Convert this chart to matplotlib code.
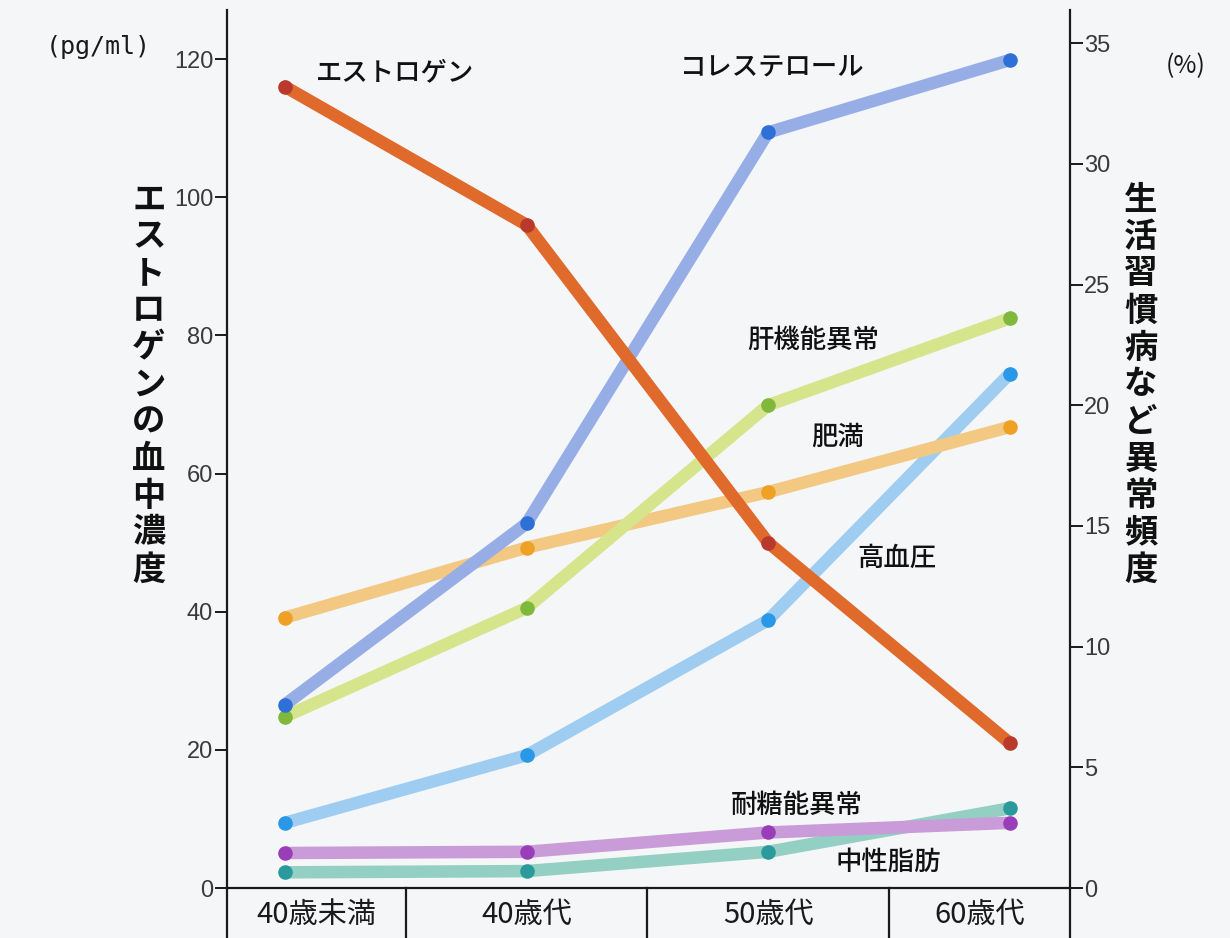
import matplotlib
matplotlib.use("Agg")
import matplotlib.pyplot as plt
from matplotlib.transforms import blended_transform_factory

plt.rcParams['font.family'] = ['Noto Sans CJK JP', 'DejaVu Sans']

# ---- data ----
age_groups = ["40歳未満", "40歳代", "50歳代", "60歳代"]
estrogen = [116, 96, 50, 21]                 # pg/ml (left axis)
cholesterol = [7.6, 15.1, 31.3, 34.3]        # % (right axis)
liver = [7.1, 11.6, 20.0, 23.6]
obesity = [11.2, 14.1, 16.4, 19.1]
hypertension = [2.7, 5.5, 11.1, 21.3]
glucose = [1.45, 1.5, 2.3, 2.7]
triglyceride = [0.65, 0.7, 1.5, 3.3]

left_ticks = [0, 20, 40, 60, 80, 100, 120]
right_ticks = [0, 5, 10, 15, 20, 25, 30, 35]

bg = "#f4f6f7"
fig = plt.figure(figsize=(12.3, 9.38), dpi=100, facecolor=bg)
ax = fig.add_axes([0.1846, 0.0533, 0.6854, 0.936])
ax2 = ax.twinx()

x = list(range(len(age_groups)))
ax.set_xlim(-0.24, 3.25)
ax.set_ylim(0, 127.1)
ax2.set_ylim(0, 36.37)

lw = 9
ms = 10.5

def series(a, vals, line_c, mark_c, z):
    a.plot(x, vals, color=line_c, lw=lw, solid_capstyle='round', zorder=z)
    a.plot(x, vals, 'o', color=mark_c, ms=ms, mec='none', zorder=z + 0.5)

series(ax2, triglyceride, "#93cfc2", "#2b9a9c", 2)
series(ax2, glucose, "#c99bd9", "#9a3db8", 3)
series(ax2, hypertension, "#9fcdf2", "#2a98e6", 4)
series(ax2, obesity, "#f2c883", "#efa126", 5)
series(ax2, liver, "#d6e48c", "#80b83c", 6)
series(ax2, cholesterol, "#96ade6", "#2f6fd8", 7)
series(ax, estrogen, "#e0692c", "#b93a2c", 8)

ax.set_zorder(ax2.get_zorder() + 1)
ax.patch.set_visible(False)
ax2.patch.set_visible(False)

for a in (ax, ax2):
    a.spines['top'].set_visible(False)
    for s in a.spines.values():
        s.set_linewidth(1.6)
        s.set_color("#1a1a1a")
ax.spines['right'].set_visible(False)
ax2.spines['left'].set_visible(False)
ax2.spines['bottom'].set_visible(False)

tick_font = dict(family=['Liberation Sans', 'DejaVu Sans'], size=17, color="#3a3a3a")
ax.set_yticks(left_ticks)
ax.set_yticklabels([str(v) for v in left_ticks], **tick_font)
ax2.set_yticks(right_ticks)
ax2.set_yticklabels([str(v) for v in right_ticks], **tick_font)
ax.tick_params(axis='y', direction='out', length=9, width=1.4, color="#1a1a1a", pad=1)
ax2.tick_params(axis='y', direction='out', length=9, width=1.4, color="#1a1a1a", pad=1)
ax.set_xticks([])

# category table below the axis
tr = blended_transform_factory(ax.transData, ax.transAxes)
bottom = -0.0533 / 0.936
edges = [ax.get_xlim()[0], 0.5, 1.5, 2.5, ax.get_xlim()[1]]
for e in edges:
    ax.plot([e, e], [0, bottom], transform=tr, color="#1a1a1a", lw=1.6, clip_on=False)
for i, lab in enumerate(age_groups):
    cx = (edges[i] + edges[i + 1]) / 2
    ax.text(cx, bottom / 2 - 0.002, lab, transform=tr, ha='center', va='center',
            fontsize=21, color="#1a1a1a", clip_on=False)

# unit labels
fig.text(98 / 1230, 1 - 47 / 938, "(pg/ml)", ha='center', va='center', fontsize=18,
         family=['DejaVu Sans Mono'], color="#1a1a1a")
fig.text(1186 / 1230, 1 - 66 / 938, "(%)", ha='center', va='center', fontsize=18,
         color="#1a1a1a")

# vertical axis titles
def vertical(txt, xc, y_top, y_bot):
    n = len(txt)
    step = (y_bot - y_top) / (n - 1)
    for k, ch in enumerate(txt):
        fig.text(xc / 1230, 1 - (y_top + k * step) / 938, ch, ha='center', va='center',
                 fontsize=24, fontweight='bold', color="#111111")

vertical("エストロゲンの血中濃度", 149, 200, 570)
vertical("生活習慣病など異常頻度", 1141, 200, 570)

# series labels
def label(txt, px, py):
    fig.text(px / 1230, 1 - py / 938, txt, ha='center', va='center', fontsize=19,
             fontweight='medium', color="#111111")

label("エストロゲン", 395, 73)
label("コレステロール", 772, 68)
label("肝機能異常", 813, 340)
label("肥満", 838, 437)
label("高血圧", 897, 558)
label("耐糖能異常", 797, 805)
label("中性脂肪", 888, 862)

fig.savefig("out.png", dpi=100, facecolor=bg)
